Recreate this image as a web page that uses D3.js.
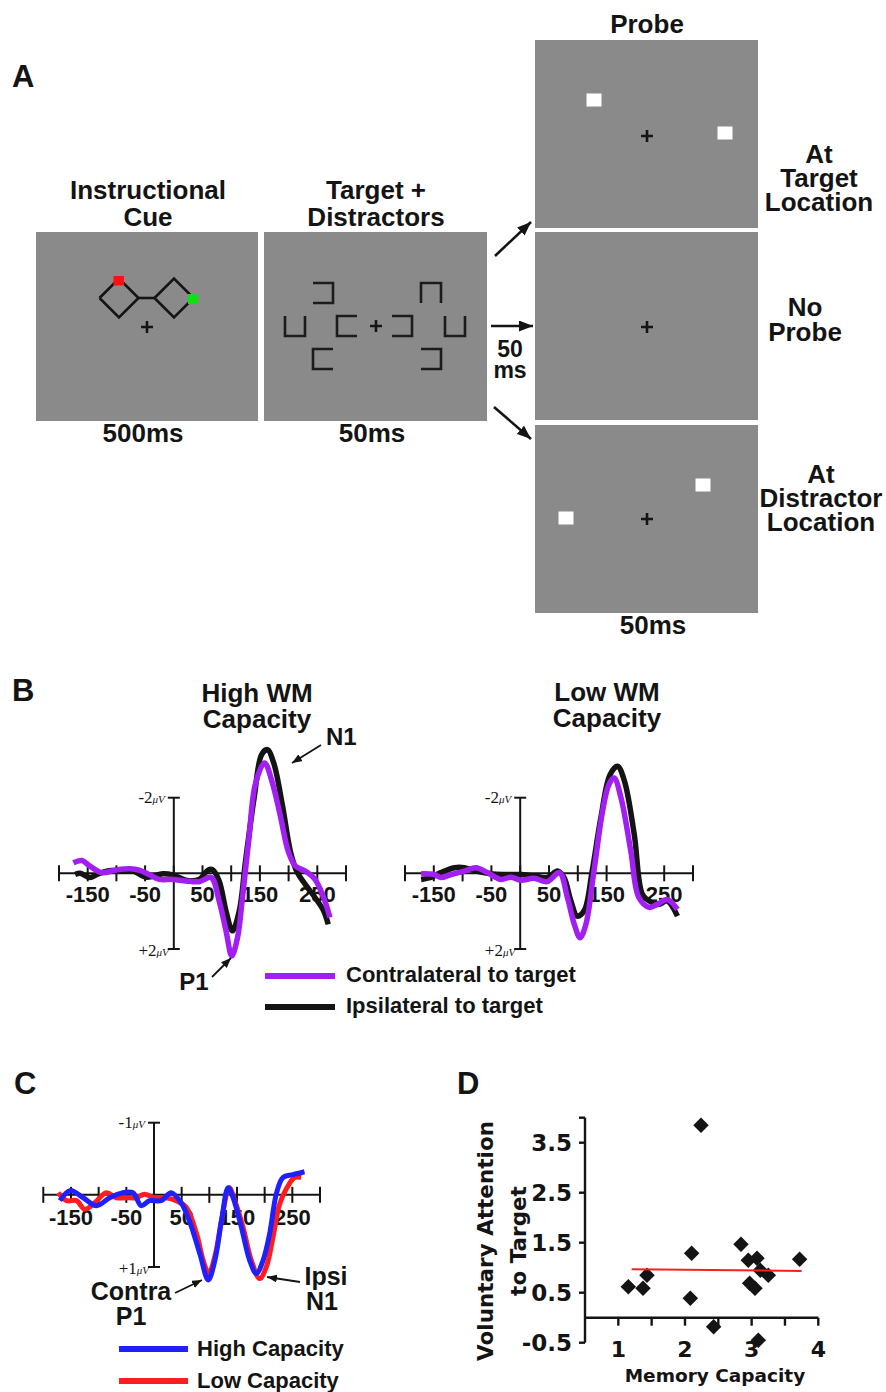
<!DOCTYPE html>
<html>
<head>
<meta charset="utf-8">
<script src="https://cdn.jsdelivr.net/npm/d3@7"></script>
<style>
body { margin: 0; background: #fff; }
svg text { font-family: "Liberation Sans", Arial, sans-serif; font-weight: bold; fill: #141414; }
</style>
</head>
<body>
<svg id="fig" width="886" height="1392"></svg>
<script>
// ---- Panel B: ERP waveforms, [ms, microvolts] (positive plotted downward) ----
var highContra = [[-175,-0.28],[-160,-0.34],[-146,-0.19],[-126,-0.02],[-100,-0.09],[-77,-0.12],[-59,-0.08],[-42,0.04],[-25,0.16],[-2,0.16],[21,0.2],[44,0.22],[65,0.11],[79,0.73],[91,1.52],[101,2.18],[111,1.7],[119,0.73],[131,-0.94],[142,-2.35],[158,-2.92],[171,-2.43],[185,-1.56],[200,-0.55],[212,-0.19],[229,-0.06],[246,0.16],[261,0.64],[272,1.17]];
var highIpsi = [[-172,0.03],[-163,0],[-146,0.11],[-134,0.03],[-117,-0.06],[-94,-0.08],[-71,-0.06],[-48,0.1],[-19,0.01],[-2,0.04],[21,0.18],[44,0.16],[59,-0.08],[67,-0.1],[79,0.2],[91,1.0],[102,1.52],[114,1.0],[125,-0.33],[140,-2.0],[153,-3.14],[163,-3.27],[174,-2.92],[189,-1.82],[203,-0.59],[214,-0.06],[229,0.29],[246,0.64],[261,0.99],[269,1.35]];
var lowContra = [[-172,0.01],[-149,0.03],[-138,0.11],[-120,0.03],[-97,-0.06],[-77,-0.15],[-57,-0.02],[-34,0.16],[-16,0.1],[1,0.18],[24,0.13],[47,0.22],[68,-0.02],[82,0.64],[94,1.35],[104,1.7],[114,1.35],[128,-0.06],[143,-1.64],[154,-2.35],[163,-2.52],[175,-2.0],[192,-0.59],[206,0.64],[224,0.9],[238,0.82],[255,0.69],[273,0.95]];
var lowIpsi = [[-172,0.16],[-155,0.11],[-138,-0.02],[-114,-0.15],[-97,-0.15],[-77,-0.06],[-51,0.01],[-28,0.03],[1,0.03],[24,0.07],[47,0.11],[65,-0.06],[76,0.11],[88,0.73],[99,1.13],[111,0.99],[125,-0.06],[140,-1.47],[156,-2.61],[169,-2.83],[181,-2.44],[198,-1.03],[212,0.55],[224,0.73],[241,0.82],[255,0.73],[273,1.13]];

// ---- Panel C: contra-minus-ipsi difference waves ----
var highCap = [[-170,0.08],[-151,-0.06],[-128,0.04],[-104,0.15],[-80,0.04],[-56,-0.03],[-38,-0.03],[-23,0.15],[-8,0.08],[13,0.08],[31,-0.03],[49,0.11],[64,0.36],[83,0.82],[98,1.18],[110,0.91],[122,0.36],[134,-0.1],[143,0.04],[158,0.45],[173,0.91],[185,1.09],[197,0.91],[209,0.54],[221,-0.01],[233,-0.24],[251,-0.28],[272,-0.32]];
var lowCap = [[-173,-0.03],[-158,0.08],[-140,0.08],[-125,0.2],[-107,0.11],[-86,-0.03],[-68,0.04],[-50,0.04],[-32,0.04],[-17,-0.01],[1,0.04],[22,0.04],[40,0.08],[58,0.17],[77,0.54],[89,0.91],[99,1.09],[111,0.82],[123,0.31],[136,-0.1],[146,0.08],[161,0.45],[176,0.91],[191,1.16],[203,1.0],[215,0.59],[227,0.13],[239,-0.08],[254,-0.24],[266,-0.24]];

var msTicks = [-200,-150,-100,-50,0,50,100,150,200,250,300];
var msLabels = [-150,-50,50,150,250];

// ---- Panel D: scatter ----
var memCap = [1.15,1.37,1.43,2.08,2.10,2.24,2.43,2.84,2.95,2.97,3.05,3.08,3.10,3.13,3.25,3.72];
var attention = [0.62,0.59,0.85,0.39,1.29,3.85,-0.18,1.47,1.15,0.69,0.59,1.19,-0.45,0.95,0.85,1.17];
var fitX = [1.2, 3.75];
var fitY = [0.97, 0.935];
var dYTicks = [-0.5, 0.5, 1.5, 2.5, 3.5];
var dXTicks = [1, 1.5, 2, 2.5, 3, 3.5, 4];

var PURPLE = '#a21ff2', BLUE = '#2020ff', RED = '#ff1e1e', GRAY = '#8a8a8a', INK = '#141414';

var svg = d3.select('#fig');

var defs = svg.append('defs');
function marker(id, w, h) {
	defs.append('marker').attr('id', id)
		.attr('markerUnits', 'userSpaceOnUse')
		.attr('markerWidth', w).attr('markerHeight', h)
		.attr('refX', w).attr('refY', h / 2).attr('orient', 'auto')
		.append('path').attr('d', 'M0,0L' + w + ',' + h / 2 + 'L0,' + h + 'Z').attr('fill', INK);
}
marker('bigHead', 14, 11);
marker('smallHead', 10, 8);

function txt(x, y, s, size, anchor) {
	return svg.append('text').attr('x', x).attr('y', y)
		.attr('text-anchor', anchor || 'middle')
		.style('font-size', size + 'px').text(s);
}
function lines(x, y, arr, size, gap) {
	arr.forEach(function(s, i) { txt(x, y + i * gap, s, size); });
}
function arrow(x1, y1, x2, y2, head, w) {
	svg.append('line').attr('x1', x1).attr('y1', y1).attr('x2', x2).attr('y2', y2)
		.attr('stroke', INK).attr('stroke-width', w).attr('marker-end', 'url(#' + head + ')');
}
function box(x, y, w, h) {
	svg.append('rect').attr('x', x).attr('y', y).attr('width', w).attr('height', h).attr('fill', GRAY);
}
function cross(cx, cy) {
	svg.append('path').attr('d', 'M' + (cx - 6) + ',' + cy + 'H' + (cx + 6) + 'M' + cx + ',' + (cy - 6) + 'V' + (cy + 6))
		.attr('stroke', INK).attr('stroke-width', 2.6);
}
function bracket(cx, cy, open) {
	var h = 10, L = cx - h, R = cx + h, T = cy - h, B = cy + h, d;
	if (open == 'left') d = [[L,T],[R,T],[R,B],[L,B]];
	if (open == 'right') d = [[R,T],[L,T],[L,B],[R,B]];
	if (open == 'top') d = [[L,T],[L,B],[R,B],[R,T]];
	if (open == 'bottom') d = [[L,B],[L,T],[R,T],[R,B]];
	svg.append('path').attr('d', d3.line()(d)).attr('fill', 'none')
		.attr('stroke', '#1c1c1c').attr('stroke-width', 2.6);
}
function whiteSq(cx, cy) {
	svg.append('rect').attr('x', cx - 7.5).attr('y', cy - 6.5).attr('width', 15).attr('height', 13).attr('fill', '#fff');
}

// ================= Panel A =================
txt(12, 87, 'A', 31, 'start');

// instructional cue
lines(148, 199, ['Instructional', 'Cue'], 26, 27);
box(36, 232, 222, 189);
[119, 174].forEach(function(cx) {
	svg.append('path').attr('d', d3.line()([[cx - 19.5, 298], [cx, 278.5], [cx + 19.5, 298], [cx, 317.5], [cx - 19.5, 298]]))
		.attr('fill', 'none').attr('stroke', INK).attr('stroke-width', 2.6);
});
svg.append('line').attr('x1', 138.5).attr('x2', 154.5).attr('y1', 298).attr('y2', 298).attr('stroke', INK).attr('stroke-width', 2.6);
svg.append('rect').attr('x', 113.5).attr('y', 276).attr('width', 10.5).attr('height', 9.5).attr('fill', '#ff1010');
svg.append('rect').attr('x', 188).attr('y', 294).attr('width', 10).attr('height', 10).attr('fill', '#10e010');
cross(147, 327);
txt(143, 442, '500ms', 26);

// target + distractors
lines(376, 199, ['Target +', 'Distractors'], 26, 27);
box(264, 232, 223, 189);
bracket(323, 293, 'left'); bracket(295, 326, 'top'); bracket(347, 326, 'right'); bracket(323, 359, 'right');
bracket(431, 293, 'bottom'); bracket(402, 326, 'left'); bracket(455, 326, 'top'); bracket(431, 359, 'left');
cross(376, 326);
txt(372, 442, '50ms', 26);

// arrows to probe
arrow(495, 256, 531, 222, 'bigHead', 2.6);
arrow(491, 326, 533, 326, 'bigHead', 2.6);
arrow(494, 407, 531, 439, 'bigHead', 2.6);
lines(510, 357, ['50', 'ms'], 23, 21);

// probe column
txt(647, 33, 'Probe', 26);
box(535, 40, 223, 188);
box(535, 232, 223, 188);
box(535, 425, 223, 188);
whiteSq(594, 100); whiteSq(725, 133); cross(647, 136);
cross(647, 327);
whiteSq(566, 518); whiteSq(703, 485); cross(647, 519);
txt(653, 634, '50ms', 26);
lines(819, 163, ['At', 'Target', 'Location'], 26, 24);
lines(805, 316, ['No', 'Probe'], 26, 25);
lines(821, 483, ['At', 'Distractor', 'Location'], 26, 24);

// ================= Panel B & C helpers =================
function uvLabel(x, y, sign, n) {
	var t = svg.append('text').attr('x', x).attr('y', y).attr('dy', '0.35em').attr('text-anchor', 'end')
		.style('font-family', '"Liberation Serif", "Times New Roman", serif').style('font-weight', 'normal');
	t.append('tspan').style('font-size', '17px').text(sign + n);
	t.append('tspan').style('font-size', '11px').style('font-style', 'italic').text('\u03bcV');
}

function erpAxes(x, y, yMax, lblY) {
	var g = svg.append('g').attr('stroke', INK).attr('stroke-width', 2);
	g.append('line').attr('x1', x(msTicks[0])).attr('x2', x(msTicks[msTicks.length - 1]))
		.attr('y1', y(0)).attr('y2', y(0));
	g.selectAll('.xt').data(msTicks).enter().append('line')
		.attr('x1', d => x(d)).attr('x2', d => x(d))
		.attr('y1', y(0) - 8).attr('y2', y(0) + 8);
	g.append('line').attr('x1', x(0)).attr('x2', x(0)).attr('y1', y(-yMax)).attr('y2', y(yMax));
	g.selectAll('.yt').data([-yMax, yMax]).enter().append('line')
		.attr('x1', x(0) - 6).attr('x2', x(0) + 6)
		.attr('y1', d => y(d)).attr('y2', d => y(d));
	msLabels.forEach(function(m) { txt(x(m), y(0) + lblY, m, 22); });
	uvLabel(x(0) - 9, y(-yMax), '-', yMax);
	uvLabel(x(0) - 5, y(yMax) + 1, '+', yMax);
}

function wave(x, y, data, color, w) {
	var line = d3.line().x(d => x(d[0])).y(d => y(d[1])).curve(d3.curveCatmullRom.alpha(0.5));
	svg.append('path').datum(data).attr('d', line).attr('fill', 'none')
		.attr('stroke', color).attr('stroke-width', w)
		.attr('stroke-linejoin', 'round').attr('stroke-linecap', 'butt');
}

// ================= Panel B =================
txt(12, 701, 'B', 31, 'start');

var xHigh = d3.scaleLinear().domain([-200, 300]).range([59, 346]);
var xLow = d3.scaleLinear().domain([-200, 300]).range([405, 693]);
var yB = d3.scaleLinear().domain([-2, 2]).range([797.7, 949]);

lines(257, 702, ['High WM', 'Capacity'], 26, 26);
erpAxes(xHigh, yB, 2, 29);
wave(xHigh, yB, highIpsi, INK, 5.5);
wave(xHigh, yB, highContra, PURPLE, 5.5);

lines(607, 701, ['Low WM', 'Capacity'], 26, 26);
erpAxes(xLow, yB, 2, 29);
wave(xLow, yB, lowIpsi, INK, 5.5);
wave(xLow, yB, lowContra, PURPLE, 5.5);

txt(326, 745, 'N1', 24, 'start');
arrow(321, 745, 292, 763, 'smallHead', 1.8);
txt(194, 990, 'P1', 24);
arrow(212, 977, 231, 958, 'smallHead', 1.8);

// legend B
[[PURPLE, 976, 'Contralateral to target'], [INK, 1007, 'Ipsilateral to target']].forEach(function(r) {
	svg.append('line').attr('x1', 265).attr('x2', 335).attr('y1', r[1]).attr('y2', r[1])
		.attr('stroke', r[0]).attr('stroke-width', 6);
	txt(346, r[1] + 6, r[2], 22, 'start');
});

// ================= Panel C =================
txt(14, 1094, 'C', 31, 'start');
var xC = d3.scaleLinear().domain([-200, 300]).range([43.3, 320]);
var yC = d3.scaleLinear().domain([-1, 1]).range([1122.7, 1267]);
erpAxes(xC, yC, 1, 30);
wave(xC, yC, lowCap, RED, 5);
wave(xC, yC, highCap, BLUE, 5);

lines(131, 1300, ['Contra', 'P1'], 25, 25);
arrow(175, 1293, 202, 1280, 'smallHead', 1.8);
txt(326, 1285, 'Ipsi', 25);
txt(322, 1310, 'N1', 25);
arrow(300, 1282, 267, 1277, 'smallHead', 1.8);

[[BLUE, 1349, 'High Capacity'], [RED, 1381, 'Low Capacity']].forEach(function(r) {
	svg.append('line').attr('x1', 119).attr('x2', 188).attr('y1', r[1]).attr('y2', r[1])
		.attr('stroke', r[0]).attr('stroke-width', 6);
	txt(197, r[1] + 7, r[2], 22, 'start');
});

// ================= Panel D =================
txt(457, 1094, 'D', 31, 'start');
var xD = d3.scaleLinear().domain([0.5, 4]).range([585, 818.3]);
var yD = d3.scaleLinear().domain([-0.5, 4]).range([1342.7, 1117.7]);
var gD = svg.append('g').attr('stroke', INK).attr('stroke-width', 2.4);
gD.append('line').attr('x1', xD(0.5)).attr('x2', xD(0.5)).attr('y1', yD(-0.5)).attr('y2', yD(4));
gD.append('line').attr('x1', xD(0.5)).attr('x2', xD(4)).attr('y1', yD(0)).attr('y2', yD(0));
gD.selectAll('.yt').data(dYTicks.concat([4])).enter().append('line')
	.attr('x1', xD(0.5) - 6).attr('x2', xD(0.5)).attr('y1', d => yD(d)).attr('y2', d => yD(d));
gD.selectAll('.xt').data(dXTicks).enter().append('line')
	.attr('x1', d => xD(d)).attr('x2', d => xD(d)).attr('y1', yD(0)).attr('y2', yD(0) + 8);

var dFont = '"DejaVu Sans", Verdana, sans-serif';
dYTicks.forEach(function(v) {
	txt(572, yD(v), v, 23, 'end').attr('dy', '0.36em').style('font-family', dFont);
});
[1, 2, 3, 4].forEach(function(v) {
	txt(xD(v), 1357, v, 22).style('font-family', dFont);
});
txt(715, 1382, 'Memory Capacity', 18.5).style('font-family', dFont);
var yt = svg.append('text').attr('transform', 'translate(501,1241) rotate(-90)')
	.attr('text-anchor', 'middle').style('font-family', dFont).style('font-size', '21.5px');
yt.append('tspan').attr('x', 0).attr('y', -8).text('Voluntary Attention');
yt.append('tspan').attr('x', 0).attr('y', 25).text('to Target');

var pts = memCap.map((m, i) => [m, attention[i]]);
svg.selectAll('.dia').data(pts).enter().append('path')
	.attr('d', d3.symbol(d3.symbolSquare, 120))
	.attr('transform', d => 'translate(' + xD(d[0]) + ',' + yD(d[1]) + ') rotate(45)')
	.attr('fill', INK);

svg.append('line').attr('x1', xD(fitX[0])).attr('x2', xD(fitX[1]))
	.attr('y1', yD(fitY[0])).attr('y2', yD(fitY[1]))
	.attr('stroke', RED).attr('stroke-width', 2);
</script>
</body>
</html>
